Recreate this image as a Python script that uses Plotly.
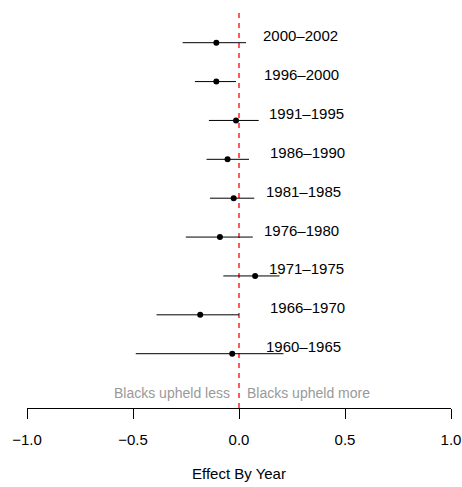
import plotly.graph_objects as go

# ---- data (top to bottom as in the chart) ----
periods = ["2000–2002", "1996–2000", "1991–1995", "1986–1990", "1981–1985",
           "1976–1980", "1971–1975", "1966–1970", "1960–1965"]
estimate = [-0.107, -0.107, -0.014, -0.054, -0.025, -0.090, 0.076, -0.183, -0.032]
lower = [-0.266, -0.208, -0.142, -0.153, -0.137, -0.251, -0.074, -0.389, -0.487]
upper = [0.033, -0.014, 0.093, 0.047, 0.072, 0.065, 0.191, 0.000, 0.210]
tick_vals = [-1.0, -0.5, 0.0, 0.5, 1.0]
tick_text = ["−1.0", "−0.5", "0.0", "0.5", "1.0"]

n = len(periods)
ypos = [n - i for i in range(n)]  # 9 .. 1

FONT = "Liberation Sans, Arial, Helvetica, sans-serif"

fig = go.Figure()
fig.add_trace(go.Scatter(
    x=estimate, y=ypos, mode="markers",
    marker=dict(color="black", size=6),
    error_x=dict(type="data", symmetric=False,
                 array=[u - e for u, e in zip(upper, estimate)],
                 arrayminus=[e - l for e, l in zip(estimate, lower)],
                 color="black", thickness=1, width=0),
    showlegend=False, hoverinfo="skip", cliponaxis=False,
))

# label placement (layout only)
label_x = [0.104, 0.110, 0.132, 0.138, 0.118, 0.110, 0.130, 0.138, 0.119]
for lbl, lx, y in zip(periods, label_x, ypos):
    fig.add_annotation(x=lx, y=y, text=lbl, showarrow=False, xanchor="left",
                       yanchor="middle", yshift=7,
                       font=dict(family=FONT, size=15, color="black"))

# reference line at zero
fig.add_shape(type="line", x0=0, x1=0, xref="x", y0=0, y1=1, yref="paper",
              line=dict(color="#ff0000", width=1.3, dash="5px,5px"), layer="below")

fig.add_annotation(x=0, y=0.0, xref="x", yref="y", text="Blacks upheld less",
                   showarrow=False, xanchor="right", yanchor="middle", xshift=-7,
                   font=dict(family=FONT, size=14, color="#999999"))
fig.add_annotation(x=0, y=0.0, xref="x", yref="y", text="Blacks upheld more",
                   showarrow=False, xanchor="left", yanchor="middle", xshift=6,
                   font=dict(family=FONT, size=14, color="#999999"))

# axis title
fig.add_annotation(x=0.5, y=0, xref="paper", yref="paper", text="Effect By Year",
                   showarrow=False, xanchor="center", yanchor="middle", yshift=-65,
                   font=dict(family=FONT, size=15, color="black"))

fig.update_layout(
    width=462, height=487,
    margin=dict(l=27, r=11, t=9, b=79),
    paper_bgcolor="white", plot_bgcolor="white",
    font=dict(family=FONT, size=15, color="black"),
    xaxis=dict(range=[-1.0, 1.0], tickvals=tick_vals, ticktext=tick_text,
               showgrid=False, zeroline=False, showline=True, linecolor="black",
               linewidth=1, ticks="outside", ticklen=10, tickwidth=1,
               tickcolor="black", tickfont=dict(family=FONT, size=15),
               ticklabelstandoff=8, automargin=False),
    yaxis=dict(range=[-0.397, 9.867], visible=False, showgrid=False,
               zeroline=False, automargin=False),
)

# remove the default 8px page margin so the figure fills the window exactly
fig.write_html("out.html",
               config={"displayModeBar": False, "staticPlot": True},
               post_script="document.body.style.margin='0px';"
                           "document.documentElement.style.overflow='hidden';"
                           "document.body.style.overflow='hidden';")
